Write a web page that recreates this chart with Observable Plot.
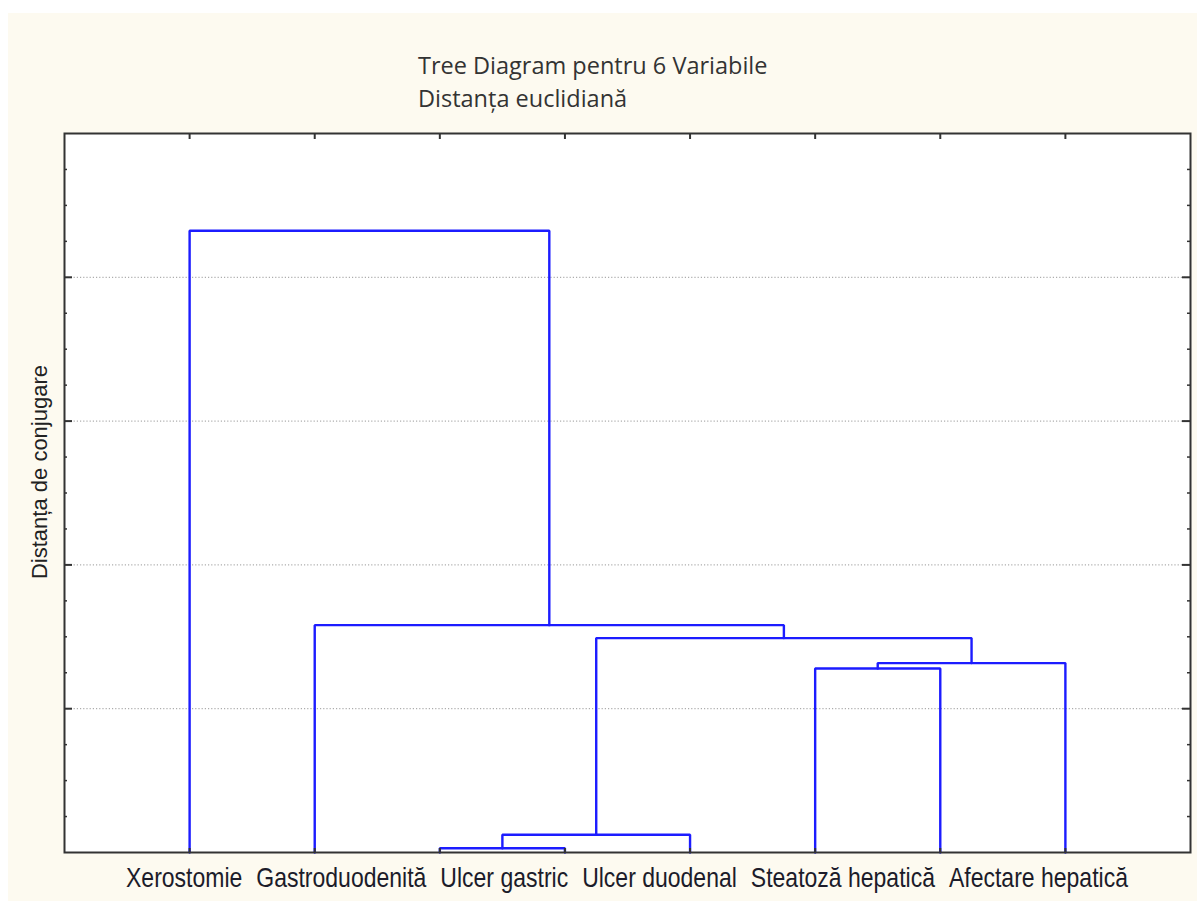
<!DOCTYPE html>
<html><head><meta charset="utf-8">
<script src="https://cdn.jsdelivr.net/npm/d3@7"></script>
<script src="https://cdn.jsdelivr.net/npm/@observablehq/plot@0.6"></script>
<style>
html,body{margin:0;padding:0;background:#fff;width:1197px;height:901px;overflow:hidden;position:relative}
#panel{position:absolute;left:8px;top:13px;width:1189px;height:888px;background:#fdfaf0}
#title{position:absolute;left:418px;top:49px;font-family:"Open Sans";font-size:23.5px;color:#333;line-height:33px;white-space:nowrap}
#chart{position:absolute;left:0;top:120px}
#ylabel{position:absolute;left:40px;top:472px;width:0;height:0}
#ylabel span{position:absolute;left:0;top:0;transform:translate(-50%,-50%) rotate(-90deg);font-family:"Liberation Sans";font-size:22px;color:#222;white-space:nowrap}
#labels{position:absolute;left:126px;top:864px;width:1002px;display:flex;justify-content:space-between;font-family:"Liberation Sans";font-size:23px;color:#1c1c2a;transform-origin:0 0;transform:scaleY(1.2);white-space:nowrap;line-height:1}
</style></head><body>
<div id="panel"></div>
<div id="title"></div>
<div id="chart"></div>
<div id="ylabel"><span></span></div>
<div id="labels"></div>
<script>
const titleLines = ["Tree Diagram pentru 6 Variabile", "Distanța euclidiană"];
const yLabel = "Distanța de conjugare";
const leafLabels = ["Xerostomie", "Gastroduodenită", "Ulcer gastric", "Ulcer duodenal", "Steatoză hepatică", "Afectare hepatică"];
const leafCount = 8;
// merges: node ids 0..7 are leaves, merge k creates node 8+k
const childA = [2, 8, 5, 10, 9, 1, 0];
const childB = [3, 4, 6, 7, 11, 12, 13];
const mergeHeight = [0.030, 0.123, 1.280, 1.317, 1.491, 1.581, 4.324];
const gridValues = [1, 2, 3, 4];
const minorValues = [0.25,0.5,0.75,1.25,1.5,1.75,2.25,2.5,2.75,3.25,3.5,3.75,4.25,4.5,4.75];

document.getElementById("title").innerHTML = titleLines.map(t => `<div>${t}</div>`).join("");
document.querySelector("#ylabel span").textContent = yLabel;
const lab = document.getElementById("labels");
leafLabels.forEach(t => { const s = document.createElement("span"); s.textContent = t; lab.appendChild(s); });

const nodeX = [], nodeH = [];
for (let i = 0; i < leafCount; i++) { nodeX.push(i + 1); nodeH.push(0); }
const paths = [];
childA.forEach((a, k) => {
  const b = childB[k], h = mergeHeight[k];
  paths.push({id: k, x: nodeX[a], y: nodeH[a]}, {id: k, x: nodeX[a], y: h}, {id: k, x: nodeX[b], y: h}, {id: k, x: nodeX[b], y: nodeH[b]});
  nodeX.push((nodeX[a] + nodeX[b]) / 2); nodeH.push(h);
});
const leafX = nodeX.slice(0, leafCount);

const W = 1197, H = 740, mL = 64, mR = 7, mT = 13, mB = 8;
const fw = W - mL - mR, fh = H - mT - mB;
const ink = "#333";

const chart = Plot.plot({
  width: W, height: H,
  marginLeft: mL, marginRight: mR, marginTop: mT, marginBottom: mB,
  style: {background: "transparent", overflow: "visible"},
  x: {domain: [0, leafCount + 1], axis: null},
  y: {domain: [0, 5], axis: null},
  marks: [
    Plot.frame({fill: "white", stroke: null}),
    Plot.ruleY(gridValues, {stroke: "#999", strokeDasharray: "1.2,2", strokeWidth: 1}),
    Plot.line(paths, {x: "x", y: "y", z: "id", stroke: "#1c1cff", strokeWidth: 2.4, strokeLinejoin: "miter", curve: "linear"}),
    Plot.ruleY(gridValues, {stroke: ink, strokeWidth: 2, insetRight: fw - 8}),
    Plot.ruleY(gridValues, {stroke: ink, strokeWidth: 2, insetLeft: fw - 8}),
    Plot.ruleY(minorValues, {stroke: ink, strokeWidth: 1.5, insetRight: fw - 3}),
    Plot.ruleY(minorValues, {stroke: ink, strokeWidth: 1.5, insetLeft: fw - 3}),
    Plot.ruleX(leafX, {stroke: ink, strokeWidth: 2, insetBottom: fh - 6}),
    Plot.ruleX(leafX, {stroke: ink, strokeWidth: 2, insetTop: fh - 4}),
    Plot.frame({stroke: ink, strokeWidth: 2})
  ]
});
document.getElementById("chart").appendChild(chart);
</script>
</body></html>
